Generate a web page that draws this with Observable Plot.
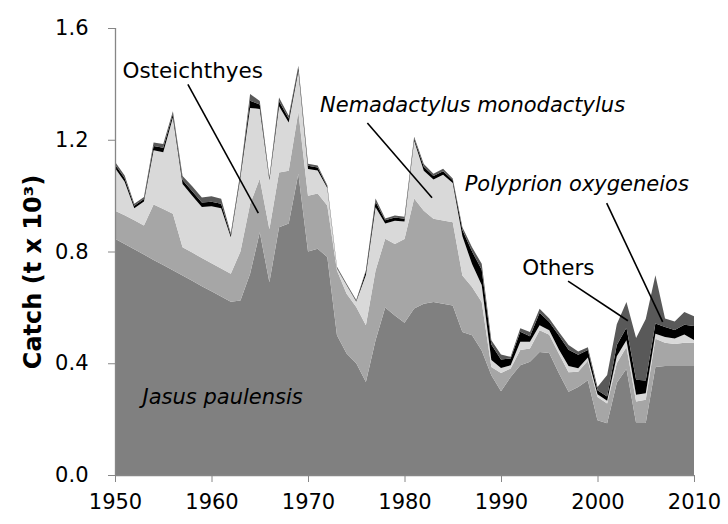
<!DOCTYPE html>
<html>
<head>
<meta charset="utf-8">
<script src="https://cdn.jsdelivr.net/npm/d3@7"></script>
<script src="https://cdn.jsdelivr.net/npm/@observablehq/plot@0.6"></script>
<style>
  html, body { margin: 0; padding: 0; background: #fff; }
  #chart svg { display: block; }
</style>
</head>
<body>
<div id="chart"></div>
<script>
const years = d3.range(1950, 2011);

const seriesNames = ["Jasus paulensis", "Osteichthyes", "Nemadactylus monodactylus", "Polyprion oxygeneios", "Others"];
const seriesColors = ["#808080", "#a6a6a6", "#d9d9d9", "#000000", "#595959"];

const jasus = [
  0.846, 0.827, 0.808, 0.789, 0.770, 0.752, 0.733, 0.714, 0.695, 0.676,
  0.658, 0.639, 0.620, 0.625, 0.720, 0.869, 0.690, 0.887, 0.900, 1.078,
  0.800, 0.810, 0.780, 0.500, 0.435, 0.400, 0.333, 0.482, 0.600, 0.571,
  0.545, 0.596, 0.613, 0.619, 0.613, 0.607, 0.512, 0.500, 0.446, 0.357,
  0.300, 0.351, 0.393, 0.405, 0.440, 0.437, 0.364, 0.298, 0.315, 0.339,
  0.196, 0.185, 0.330, 0.380, 0.186, 0.186, 0.387, 0.390, 0.390, 0.390,
  0.390
];
const osteichthyes = [
  0.100, 0.103, 0.104, 0.104, 0.198, 0.200, 0.202, 0.101, 0.101, 0.101,
  0.100, 0.100, 0.100, 0.175, 0.250, 0.191, 0.190, 0.196, 0.189, 0.222,
  0.200, 0.198, 0.185, 0.232, 0.214, 0.201, 0.203, 0.250, 0.246, 0.256,
  0.300, 0.394, 0.333, 0.298, 0.298, 0.298, 0.202, 0.173, 0.173, 0.030,
  0.065, 0.030, 0.054, 0.048, 0.078, 0.065, 0.070, 0.070, 0.055, 0.070,
  0.083, 0.071, 0.070, 0.078, 0.077, 0.083, 0.101, 0.083, 0.079, 0.083,
  0.083
];
const nemadactylus = [
  0.153, 0.120, 0.043, 0.086, 0.194, 0.203, 0.345, 0.227, 0.204, 0.182,
  0.204, 0.216, 0.131, 0.267, 0.344, 0.250, 0.175, 0.237, 0.173, 0.146,
  0.095, 0.082, 0.062, 0.008, 0.031, 0.020, 0.180, 0.226, 0.054, 0.083,
  0.062, 0.206, 0.143, 0.141, 0.164, 0.140, 0.141, 0.082, 0.061, 0.025,
  0.018, 0.012, 0.030, 0.024, 0.018, 0.016, 0.015, 0.022, 0.012, 0.012,
  0.010, 0.010, 0.025, 0.024, 0.024, 0.024, 0.018, 0.021, 0.020, 0.030,
  0.010
];
const polyprion = [
  0.012, 0.012, 0.009, 0.009, 0.016, 0.016, 0.012, 0.014, 0.016, 0.016,
  0.016, 0.016, 0.008, 0.010, 0.026, 0.016, 0.007, 0.018, 0.014, 0.012,
  0.012, 0.011, 0.006, 0.003, 0.003, 0.003, 0.012, 0.020, 0.012, 0.012,
  0.010, 0.008, 0.014, 0.012, 0.012, 0.010, 0.022, 0.045, 0.055, 0.055,
  0.030, 0.024, 0.036, 0.020, 0.045, 0.030, 0.050, 0.058, 0.048, 0.026,
  0.014, 0.015, 0.040, 0.045, 0.054, 0.045, 0.036, 0.036, 0.030, 0.035,
  0.050
];
const others = [
  0.010, 0.010, 0.007, 0.007, 0.012, 0.014, 0.010, 0.014, 0.018, 0.018,
  0.020, 0.018, 0.006, 0.007, 0.024, 0.013, 0.004, 0.013, 0.010, 0.007,
  0.007, 0.007, 0.004, 0.002, 0.002, 0.002, 0.005, 0.012, 0.006, 0.007,
  0.007, 0.007, 0.010, 0.008, 0.009, 0.006, 0.010, 0.015, 0.021, 0.015,
  0.018, 0.006, 0.012, 0.015, 0.014, 0.012, 0.013, 0.017, 0.012, 0.010,
  0.012, 0.077, 0.075, 0.092, 0.149, 0.220, 0.173, 0.030, 0.030, 0.045,
  0.035
];

const yTicks = [0, 0.4, 0.8, 1.2, 1.6];
const xTicks = [1950, 1960, 1970, 1980, 1990, 2000, 2010];
const xDomain = [1950, 2010];
const yDomain = [0, 1.6];

// annotation labels (data coordinates: year, catch)
const labelText = ["Osteichthyes", "Nemadactylus monodactylus", "Polyprion oxygeneios", "Others", "Jasus paulensis"];
const labelYear = [1958.0, 1987.0, 1997.8, 1995.9, 1961.1];
const labelVal = [1.446, 1.325, 1.043, 0.743, 0.279];
const labelItalic = [false, true, true, false, true];
// leader lines
const leaderX1 = [1957.5, 1976.1, 2000.9, 1996.9];
const leaderY1 = [1.40, 1.262, 0.975, 0.696];
const leaderX2 = [1964.8, 1982.8, 2006.7, 2003.1];
const leaderY2 = [0.939, 0.994, 0.55, 0.554];

const seriesValues = [jasus, osteichthyes, nemadactylus, polyprion, others];
const data = [];
seriesNames.forEach((name, i) => {
  years.forEach((yr, j) => data.push({series: name, year: yr, value: seriesValues[i][j]}));
});
const labels = labelText.map((t, i) => ({text: t, x: labelYear[i], y: labelVal[i], italic: labelItalic[i]}));
const leaders = leaderX1.map((x, i) => ({x1: x, y1: leaderY1[i], x2: leaderX2[i], y2: leaderY2[i]}));

const font = "'DejaVu Sans', Verdana, sans-serif";

const chart = Plot.plot({
  width: 728,
  height: 524,
  marginLeft: 115,
  marginRight: 34,
  marginTop: 28,
  marginBottom: 49,
  style: {fontFamily: font, fontSize: "20px", color: "#000", background: "#fff"},
  x: {domain: xDomain},
  y: {domain: yDomain},
  color: {domain: seriesNames, range: seriesColors},
  marks: [
    Plot.areaY(data, {x: "year", y: "value", z: "series", fill: "series", order: seriesNames, curve: "linear"}),
    Plot.ruleX([xDomain[0]], {stroke: "#868686", strokeWidth: 1.3}),
    Plot.ruleY([yDomain[0]], {stroke: "#868686", strokeWidth: 1.3}),
    Plot.axisY({ticks: yTicks, tickFormat: d3.format(".1f"), tickSize: 7, tickPadding: 20, stroke: "#868686", fontSize: 21, label: null}),
    Plot.axisX({ticks: xTicks, tickFormat: "d", tickSize: 7, tickPadding: 12, stroke: "#868686", fontSize: 21, label: null}),
    Plot.link(leaders, {x1: "x1", y1: "y1", x2: "x2", y2: "y2", stroke: "#000", strokeWidth: 1.6}),
    Plot.text(labels.filter(d => !d.italic), {x: "x", y: "y", text: "text", fontSize: 21.5, fill: "#000"}),
    Plot.text(labels.filter(d => d.italic), {x: "x", y: "y", text: "text", fontSize: 21, fontStyle: "italic", fill: "#000"}),
    Plot.text(["Catch (t x 10³)"], {frameAnchor: "left", textAnchor: "middle", dx: -82, dy: 20, rotate: -90, fontSize: 24, fontWeight: "bold", fill: "#000"})
  ]
});

document.getElementById("chart").appendChild(chart);
</script>
</body>
</html>
